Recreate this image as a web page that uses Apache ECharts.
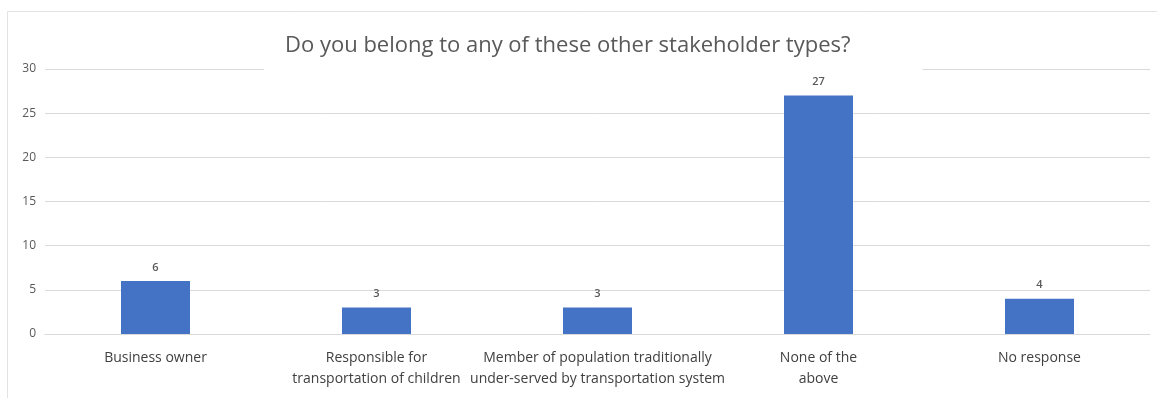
<!DOCTYPE html>
<html>
<head>
<meta charset="utf-8">
<script src="https://cdn.jsdelivr.net/npm/echarts@6/dist/echarts.min.js"></script>
<style>
  html, body { margin: 0; padding: 0; background: #fff; }
  #chart { width: 1157px; height: 398px; }
</style>
</head>
<body>
<div id="chart"></div>
<script>
// Survey responses: other stakeholder types
const categories = [
  'Business owner',
  'Responsible for\ntransportation of children',
  'Member of population traditionally\nunder-served by transportation system',
  'None of the\nabove',
  'No response'
];
const counts = [6, 3, 3, 27, 4];
const yTicks = { min: 0, max: 30, interval: 5 };
const titleText = 'Do you belong to any of these other stakeholder types?';

const FONT = '"Open Sans", sans-serif';
const chart = echarts.init(document.getElementById('chart'), null, { renderer: 'canvas' });

chart.setOption({
  backgroundColor: '#ffffff',
  animation: false,
  textStyle: { fontFamily: FONT },
  title: {
    text: titleText,
    left: 264,
    top: 20,
    padding: [15, 72, 13, 21],
    backgroundColor: '#ffffff',
    textStyle: { fontFamily: FONT, fontSize: 22, fontWeight: 'normal', color: '#595959' },
    z: 10
  },
  graphic: [{
    type: 'rect',
    shape: { x: 7.5, y: 11.5, width: 1300, height: 600 },
    style: { fill: 'none', stroke: '#e3e3e3', lineWidth: 1 },
    silent: true,
    z: -1
  }],
  grid: { left: 45, right: 7, top: 69, bottom: 64, containLabel: false },
  xAxis: {
    type: 'category',
    data: categories,
    axisLine: { lineStyle: { color: '#d9d9d9' } },
    axisTick: { show: false },
    axisLabel: {
      interval: 0,
      color: '#404040',
      fontSize: 14,
      lineHeight: 21,
      margin: 14,
      fontFamily: FONT
    }
  },
  yAxis: {
    type: 'value',
    min: yTicks.min,
    max: yTicks.max,
    interval: yTicks.interval,
    axisLine: { show: false },
    axisTick: { show: false },
    splitLine: { lineStyle: { color: '#d9d9d9' } },
    axisLabel: { color: '#595959', fontSize: 12, margin: 9, fontFamily: FONT }
  },
  series: [{
    type: 'bar',
    data: counts,
    barWidth: 69,
    itemStyle: { color: '#4472c4' },
    label: {
      show: true,
      position: 'top',
      distance: 8,
      color: '#595959',
      fontSize: 11,
      fontWeight: 600,
      fontFamily: FONT
    }
  }]
});
</script>
</body>
</html>
